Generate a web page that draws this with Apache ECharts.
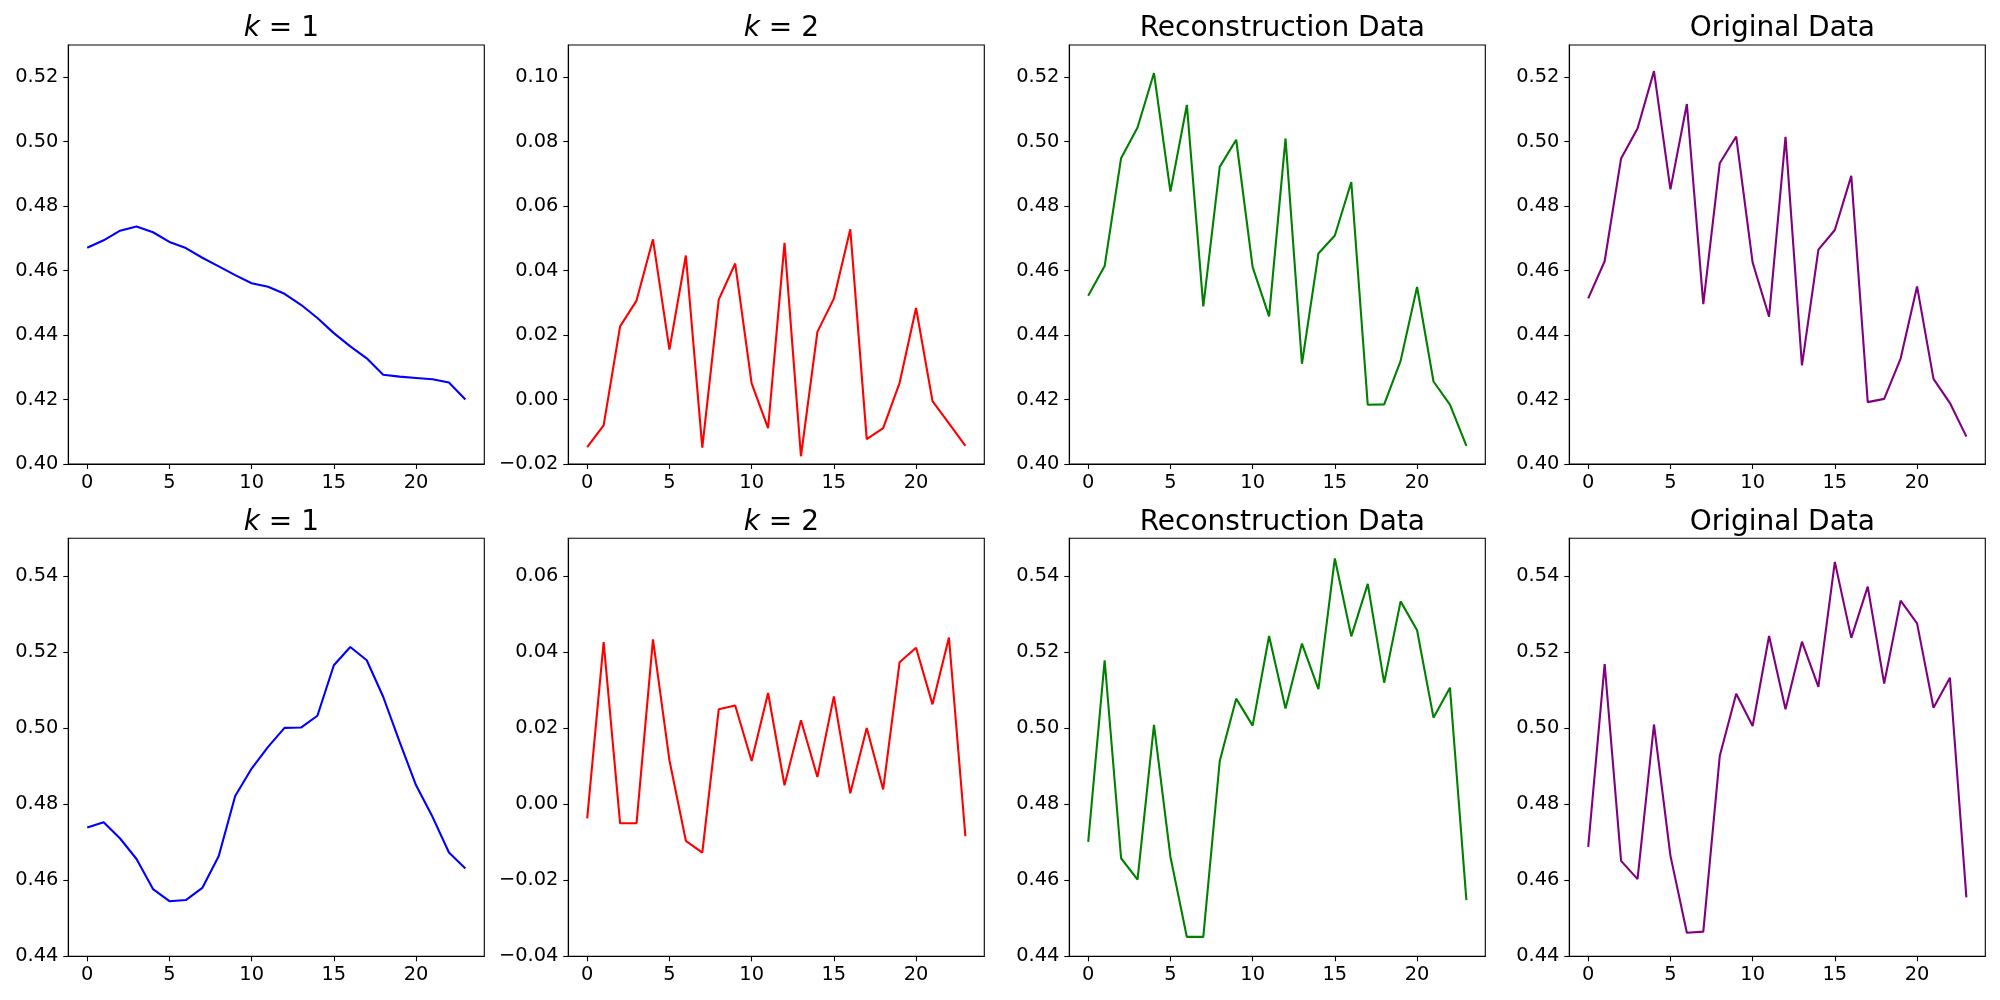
<!DOCTYPE html>
<html>
<head>
<meta charset="utf-8">
<script src="https://cdn.jsdelivr.net/npm/echarts@6/dist/echarts.min.js"></script>
<style>
html,body{margin:0;padding:0;background:#fff;}
#chart{width:2000px;height:1000px;}
</style>
</head>
<body>
<div id="chart"></div>
<script>
// ---------------- data ----------------
const steps = [0,1,2,3,4,5,6,7,8,9,10,11,12,13,14,15,16,17,18,19,20,21,22,23];
const xTicks = [0,5,10,15,20];

const k1Top = [0.4671,0.4694,0.4724,0.4737,0.4719,0.4689,0.4670,0.4640,0.4613,0.4586,0.4561,0.4550,0.4528,0.4494,0.4453,0.4406,0.4365,0.4328,0.4277,0.4271,0.4267,0.4263,0.4253,0.4200];
const k2Top = [-0.0148,-0.0080,0.0227,0.0307,0.0497,0.0155,0.0447,-0.0149,0.0310,0.0422,0.0050,-0.0089,0.0486,-0.0176,0.0210,0.0313,0.0528,-0.0123,-0.0089,0.0052,0.0284,-0.0005,-0.0074,-0.0144];
const reconTop = [0.4522,0.4614,0.4949,0.5044,0.5213,0.4845,0.5114,0.4489,0.4922,0.5006,0.4611,0.4458,0.5010,0.4311,0.4653,0.4709,0.4875,0.4184,0.4185,0.4320,0.4549,0.4256,0.4184,0.4056];
const origTop = [0.4514,0.4629,0.4948,0.5041,0.5219,0.4852,0.5117,0.4496,0.4933,0.5016,0.4625,0.4457,0.5015,0.4306,0.4665,0.4726,0.4894,0.4192,0.4202,0.4327,0.4551,0.4264,0.4189,0.4085];

const k1Bottom = [0.4739,0.4753,0.4710,0.4656,0.4577,0.4545,0.4548,0.4580,0.4664,0.4822,0.4894,0.4951,0.5001,0.5002,0.5033,0.5166,0.5214,0.5179,0.5083,0.4964,0.4850,0.4767,0.4673,0.4631];
const k2Bottom = [-0.0037,0.0427,-0.0050,-0.0050,0.0434,0.0116,-0.0096,-0.0127,0.0250,0.0260,0.0114,0.0293,0.0050,0.0221,0.0072,0.0284,0.0029,0.0201,0.0039,0.0374,0.0412,0.0263,0.0439,-0.0084];
const reconBottom = [0.4701,0.5179,0.4658,0.4602,0.5009,0.4662,0.4451,0.4451,0.4914,0.5078,0.5007,0.5243,0.5052,0.5223,0.5103,0.5447,0.5242,0.5380,0.5120,0.5334,0.5258,0.5028,0.5107,0.4548];
const origBottom = [0.4688,0.5169,0.4651,0.4603,0.5010,0.4665,0.4462,0.4465,0.4927,0.5091,0.5006,0.5243,0.5050,0.5228,0.5109,0.5438,0.5238,0.5373,0.5118,0.5336,0.5276,0.5054,0.5133,0.4555];

const yTicksTopLevel = [0.40,0.42,0.44,0.46,0.48,0.50,0.52];
const yTicksTopK2 = [-0.02,0.00,0.02,0.04,0.06,0.08,0.10];
const yTicksBottomLevel = [0.44,0.46,0.48,0.50,0.52,0.54];
const yTicksBottomK2 = [-0.04,-0.02,0.00,0.02,0.04,0.06];

const yRangeTopLevel = [0.40,0.53];
const yRangeTopK2 = [-0.02,0.11];
const yRangeBottomLevel = [0.44,0.55];
const yRangeBottomK2 = [-0.04,0.07];

const panelTitles = ['k1','k2','Reconstruction Data','Original Data','k1','k2','Reconstruction Data','Original Data'];
// ---------------- build ----------------
const panels = [
  {vals:k1Top, color:'#0000ff', ticks:yTicksTopLevel, range:yRangeTopLevel},
  {vals:k2Top, color:'#ff0000', ticks:yTicksTopK2, range:yRangeTopK2},
  {vals:reconTop, color:'#008000', ticks:yTicksTopLevel, range:yRangeTopLevel},
  {vals:origTop, color:'#800080', ticks:yTicksTopLevel, range:yRangeTopLevel},
  {vals:k1Bottom, color:'#0000ff', ticks:yTicksBottomLevel, range:yRangeBottomLevel},
  {vals:k2Bottom, color:'#ff0000', ticks:yTicksBottomK2, range:yRangeBottomK2},
  {vals:reconBottom, color:'#008000', ticks:yTicksBottomLevel, range:yRangeBottomLevel},
  {vals:origBottom, color:'#800080', ticks:yTicksBottomLevel, range:yRangeBottomLevel}
];

const colLeft = [68.3, 568.3, 1069.3, 1569.3];
const rowTop = [45, 538.3];
const rowHeight = [419, 418];
const gw = 416;
const FONT = 'DejaVu Sans';
const TICK_FS = 19.4;

const grids = [], xAxes = [], yAxes = [], series = [], titles = [];
const fmt = v => v.toFixed(2).replace('-', '\u2212');

panels.forEach((p, i) => {
  const r = Math.floor(i / 4), c = i % 4;
  grids.push({left: colLeft[c], top: rowTop[r], width: gw, height: rowHeight[r],
    show: true, borderColor: '#000', borderWidth: 1.1, containLabel: false});
  xAxes.push({
    type: 'value', gridIndex: i, min: -1.15, max: 24.15,
    axisLine: {show: true, onZero: false, lineStyle: {color: '#000', width: 1.1}},
    axisTick: {show: true, length: 5, customValues: xTicks, lineStyle: {color: '#000', width: 1.1}},
    axisLabel: {show: true, customValues: xTicks, fontSize: TICK_FS, color: '#000', fontFamily: FONT, margin: 9,
      formatter: v => String(v)},
    splitLine: {show: false}
  });
  yAxes.push({
    type: 'value', gridIndex: i, min: p.range[0], max: p.range[1],
    axisLine: {show: true, onZero: false, lineStyle: {color: '#000', width: 1.1}},
    axisTick: {show: true, length: 5, customValues: p.ticks, lineStyle: {color: '#000', width: 1.1}},
    axisLabel: {show: true, customValues: p.ticks, fontSize: TICK_FS, color: '#000', fontFamily: FONT, margin: 10,
      formatter: v => fmt(v)},
    splitLine: {show: false}
  });
  series.push({
    type: 'line', xAxisIndex: i, yAxisIndex: i,
    data: steps.map((s, j) => [s, p.vals[j]]),
    showSymbol: false, symbol: 'none', smooth: false,
    lineStyle: {color: p.color, width: 2.1},
    itemStyle: {color: p.color},
    silent: true
  });
  const t = panelTitles[i];
  let text;
  if (t === 'k1') text = '{it|k}{n| = 1}';
  else if (t === 'k2') text = '{it|k}{n| = 2}';
  else text = '{n|' + t + '}';
  titles.push({
    text: text,
    left: colLeft[c] + gw / 2,
    top: rowTop[r] - 35,
    textAlign: 'center',
    textStyle: {
      fontSize: 28, fontFamily: FONT, color: '#000', fontWeight: 'normal',
      rich: {
        it: {fontSize: 28, fontFamily: FONT, fontStyle: 'italic', color: '#000'},
        n: {fontSize: 28, fontFamily: FONT, color: '#000'}
      }
    }
  });
});

const chart = echarts.init(document.getElementById('chart'), null, {renderer: 'canvas'});
chart.setOption({
  animation: false,
  backgroundColor: '#fff',
  title: titles,
  grid: grids,
  xAxis: xAxes,
  yAxis: yAxes,
  series: series
});
</script>
</body>
</html>
